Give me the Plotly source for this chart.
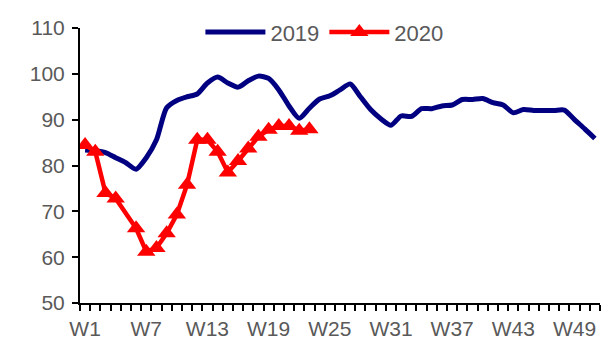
import plotly.graph_objects as go

# Weekly index values
weeks = list(range(1, 52))
week_labels = [f"W{w}" for w in weeks]

values_2019 = [
    83.4, 83.2, 82.8, 81.7, 80.6, 79.2, 81.7, 85.6, 92.6, 94.2,
    95.0, 95.6, 98.0, 99.3, 98.0, 97.1, 98.5, 99.5, 99.0, 96.5,
    93.0, 90.3, 92.5, 94.5, 95.2, 96.5, 97.8, 95.0, 92.2, 90.2,
    88.8, 90.8, 90.7, 92.4, 92.4, 93.0, 93.2, 94.4, 94.4, 94.6,
    93.7, 93.2, 91.5, 92.2, 92.0, 92.0, 92.0, 92.1, 90.0, 88.0,
    85.9,
]

values_2020 = [
    84.5, 83.0, 74.0, 72.8, None, 66.3, 61.2, 62.0, 65.2, 69.3,
    75.8, 85.6, 85.6, 83.0, 78.5, 81.0, 83.7, 86.3, 87.8, 88.6,
    88.6, 87.6, 87.9,
]

label_weeks = list(range(1, 52, 6))
label_text = [f"W{w}" for w in label_weeks]

FONT = "Liberation Sans, Arial, sans-serif"
GREY = "#595959"

fig = go.Figure()
fig.add_trace(go.Scatter(
    x=weeks, y=values_2019, name="2019", mode="lines",
    line=dict(color="#000080", width=5, shape="spline", smoothing=0.7),
))
fig.add_trace(go.Scatter(
    x=weeks[:len(values_2020)], y=values_2020, name="2020", mode="lines+markers",
    connectgaps=True,
    line=dict(color="#FF0000", width=4.5),
    marker=dict(symbol="triangle-up", size=16, color="#FF0000"),
))

fig.update_layout(
    width=611, height=342,
    margin=dict(l=80, r=11, t=23, b=39),
    paper_bgcolor="white", plot_bgcolor="white",
    font=dict(family=FONT, size=21, color=GREY),
    showlegend=True,
    legend=dict(
        orientation="h", x=0.47, xanchor="center", y=0.985, yanchor="middle",
        font=dict(family=FONT, size=22, color=GREY),
        bgcolor="rgba(0,0,0,0)", itemwidth=60, traceorder="normal",
    ),
    xaxis=dict(
        range=[0.5, 51.5], tickmode="array", tickvals=label_weeks, ticktext=label_text,
        ticks="outside", ticklen=0.01, tickcolor="rgba(0,0,0,0)",
        ticklabelstandoff=6, automargin=False,
        showline=True, linecolor="black", linewidth=2,
        showgrid=False, zeroline=False,
        minor=dict(ticks="outside", ticklen=6, tickmode="linear", tick0=0.5, dtick=1,
                   tickcolor="black", tickwidth=1.5, showgrid=False),
        tickfont=dict(family=FONT, size=21, color=GREY),
    ),
    yaxis=dict(
        range=[50, 110], dtick=10, tick0=50, ticks="outside", ticklen=6,
        tickcolor="black", tickwidth=1.5, ticklabelstandoff=3, automargin=False,
        showline=True, linecolor="black", linewidth=2,
        showgrid=False, zeroline=False,
        tickfont=dict(family=FONT, size=21, color=GREY),
    ),
)

fig.write_html("out.html")
